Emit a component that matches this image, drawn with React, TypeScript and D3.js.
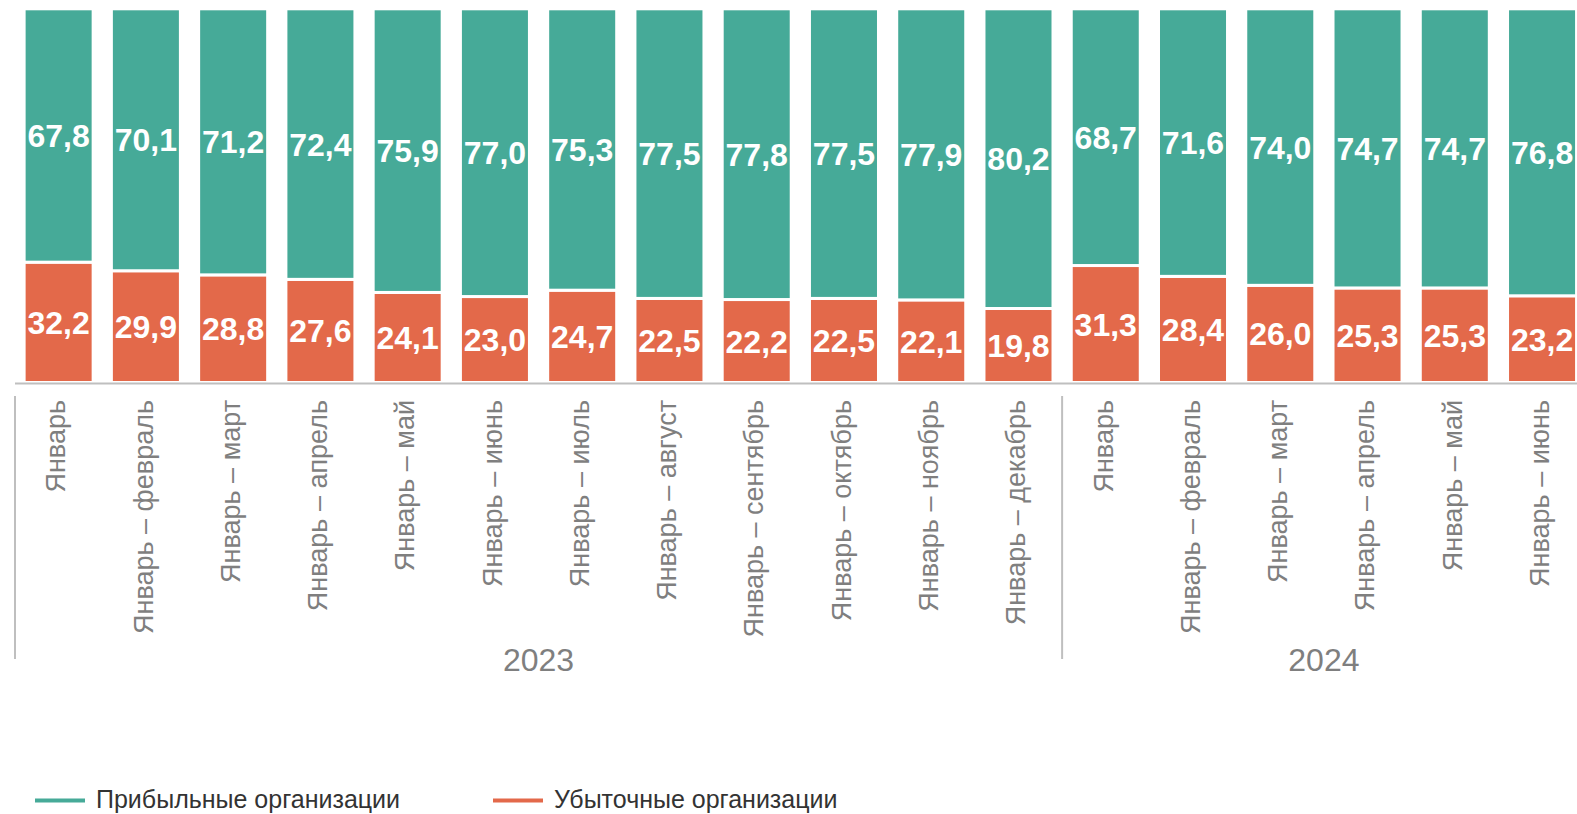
import React from "react";
import * as d3 from "d3";

const categories = [
  "Январь", "Январь – февраль", "Январь – март", "Январь – апрель", "Январь – май", "Январь – июнь",
  "Январь – июль", "Январь – август", "Январь – сентябрь", "Январь – октябрь", "Январь – ноябрь", "Январь – декабрь",
  "Январь", "Январь – февраль", "Январь – март", "Январь – апрель", "Январь – май", "Январь – июнь",
];
const years = ["2023", "2024"];
const yearCounts = [12, 6];
const profitable = [67.8, 70.1, 71.2, 72.4, 75.9, 77.0, 75.3, 77.5, 77.8, 77.5, 77.9, 80.2, 68.7, 71.6, 74.0, 74.7, 74.7, 76.8];
const unprofitable = [32.2, 29.9, 28.8, 27.6, 24.1, 23.0, 24.7, 22.5, 22.2, 22.5, 22.1, 19.8, 31.3, 28.4, 26.0, 25.3, 25.3, 23.2];
const seriesNames = ["Убыточные организации", "Прибыльные организации"];
const legendOrder = ["Прибыльные организации", "Убыточные организации"];

const W = 1577, H = 814;
const colors: Record<string, string> = {
  "Прибыльные организации": "#46AA98",
  "Убыточные организации": "#E3694A",
};
const FONT = "'Liberation Sans', Arial, sans-serif";

export default function App() {
  const idx = categories.map((_, i) => i);
  const step = 87.26;
  const x = d3.scaleBand<number>().domain(idx).range([15, 15 + 18 * step]).paddingInner(0.209).paddingOuter(0.1045);
  const y = d3.scaleLinear().domain([0, 100]).range([382.5, 8.8]);
  const rows = idx.map((i) => ({ i, "Убыточные организации": unprofitable[i], "Прибыльные организации": profitable[i] }));
  const stacked = d3.stack<any>().keys(seriesNames)(rows);

  let start = 0;
  const groups = years.map((yr, g) => {
    const s = start;
    const e = start + yearCounts[g];
    start = e;
    const x0 = 15 + s * step;
    const x1 = 15 + e * step;
    return { yr, x0, x1, cx: (x0 + x1) / 2 };
  });

  return (
    <div style={{ position: "absolute", left: 0, top: 0 }}>
      <svg width={W} height={H} style={{ display: "block", fontFamily: FONT }}>
        {stacked.map((ser) => (
          <g key={ser.key}>
            {ser.map((d, j) => {
              const bx = x(j)!;
              const y0 = y(d[1]);
              const y1 = y(d[0]);
              const val = d[1] - d[0];
              return (
                <g key={j}>
                  <rect x={bx} y={y0} width={x.bandwidth()} height={y1 - y0} fill={colors[ser.key]} stroke="#fff" strokeWidth={3} />
                  <text x={bx + x.bandwidth() / 2} y={(y0 + y1) / 2} dy="0.36em" textAnchor="middle" fill="#fff" fontWeight="bold" fontSize={32}>
                    {val.toFixed(1).replace(".", ",")}
                  </text>
                </g>
              );
            })}
          </g>
        ))}
        <line x1={15} x2={W} y1={383.5} y2={383.5} stroke="#BFBFBF" strokeWidth={2} />
        {idx.map((i) => {
          const cx = x(i)! + x.bandwidth() / 2;
          return (
            <text key={i} transform={`translate(${cx},400) rotate(-90)`} dy="0.25em" textAnchor="end" fill="#7F7F7F" fontSize={27}>
              {categories[i]}
            </text>
          );
        })}
        {groups.map((g) => (
          <g key={g.yr}>
            <line x1={g.x0} x2={g.x0} y1={396} y2={659} stroke="#BFBFBF" strokeWidth={2} />
            <text x={g.cx} y={671} textAnchor="middle" fill="#7F7F7F" fontSize={32}>{g.yr}</text>
          </g>
        ))}
        {legendOrder.map((name, k) => {
          const lx = k === 0 ? 35 : 493;
          return (
            <g key={name}>
              <line x1={lx} x2={lx + 50} y1={800.5} y2={800.5} stroke={colors[name]} strokeWidth={4} />
              <text x={lx + 61} y={808} fill="#333333" fontSize={25}>{name}</text>
            </g>
          );
        })}
      </svg>
    </div>
  );
}
